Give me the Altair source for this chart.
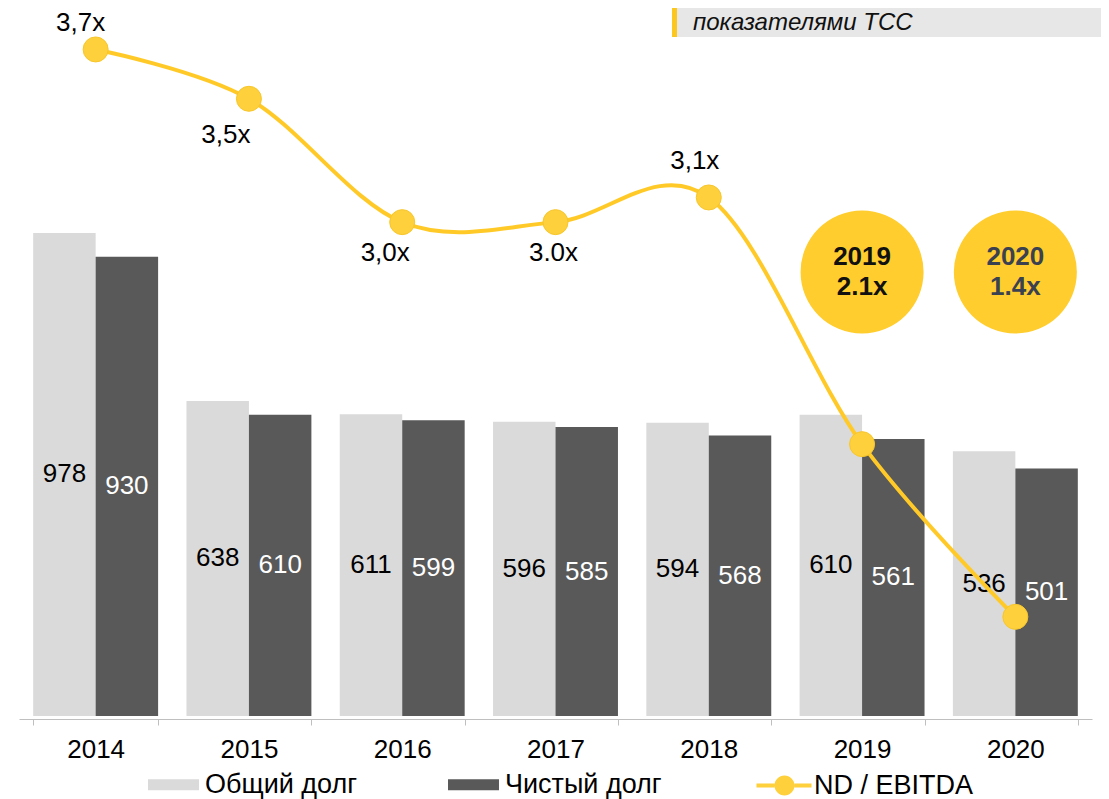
import altair as alt
import pandas as pd

# ---------------- data ----------------
years = ["2014", "2015", "2016", "2017", "2018", "2019", "2020"]
total_debt = [978, 638, 611, 596, 594, 610, 536]
net_debt = [930, 610, 599, 585, 568, 561, 501]
nd_ebitda = [3.7, 3.5, 3.0, 3.0, 3.1, 2.1, 1.4]
nd_labels = ["3,7x", "3,5x", "3,0x", "3.0x", "3,1x", "", ""]
callout_years = ["2019", "2020"]
callout_labels = ["2.1x", "1.4x"]
series_names = ["Общий долг", "Чистый долг"]
line_name = "ND / EBITDA"
title_text = "показателями ТСС"

# label offsets (style, not data)
label_offsets = {
    "2014": (-15, -26),
    "2015": (-23, 36),
    "2016": (-17, 31),
    "2017": (-2, 31),
    "2018": (-14, -36),
}

FONT = "Liberation Sans, Arial, sans-serif"
LIGHT = "#dadada"
DARK = "#595959"
YELLOW = "#ffca28"
POINT_YELLOW = "#fdd03c"
CIRCLE_YELLOW = "#ffcd2d"

W, H = 1073, 708

bar_df = pd.DataFrame({
    "year": years * 2,
    "series": [series_names[0]] * len(years) + [series_names[1]] * len(years),
    "value": total_debt + net_debt,
})
nd_df = pd.DataFrame({"year": years, "nd": nd_ebitda, "label": nd_labels})
call_df = pd.DataFrame({"year": callout_years, "label": callout_labels})
title_df = pd.DataFrame({"t": [title_text]})

xscale = alt.Scale(domain=years, paddingInner=0.185, paddingOuter=0.0925)
xaxis = alt.Axis(
    title=None, labelFont=FONT, labelFontSize=26, labelColor="#000", labelAngle=0,
    domainColor="#bfbfbf", tickColor="#bfbfbf", tickSize=6, tickBand="extent",
    offset=3, labelPadding=11, grid=False,
)
X = alt.X("year:N", scale=xscale, axis=xaxis, title=None)
XOFF = alt.XOffset("series:N", scale=alt.Scale(domain=series_names, paddingInner=0, paddingOuter=0))
bar_y_scale = alt.Scale(domain=[0, 1433.5], nice=False, zero=True)
nd_scale = alt.Scale(domain=[0.998, 3.868], nice=False, zero=False)

bar_legend = alt.Legend(
    title=None, orient="none", legendX=121, legendY=763, direction="horizontal",
    symbolType="M-1,-1H8.27V1H-1Z", symbolSize=121, symbolStrokeWidth=0,
    labelFont=FONT, labelFontSize=27, labelColor="#000", labelOffset=38,
    columnPadding=82, padding=0,
)
line_legend = alt.Legend(
    title=None, orient="none", legendX=734, legendY=764, direction="horizontal",
    symbolType="M-1,-0.2H0.8V0.2H-1Z M2.8,-0.2H4.5V0.2H2.8Z M0.8,0A1,1 0 1,0 2.8,0A1,1 0 1,0 0.8,0Z",
    symbolSize=400, symbolStrokeWidth=0,
    labelFont=FONT, labelFontSize=27, labelColor="#000", labelOffset=34, padding=0,
)

bars = alt.Chart(bar_df).mark_bar(strokeWidth=0).encode(
    x=X, xOffset=XOFF,
    y=alt.Y("value:Q", scale=bar_y_scale, axis=None),
    color=alt.Color("series:N", scale=alt.Scale(domain=series_names, range=[LIGHT, DARK]), legend=bar_legend),
)
bar_text = alt.Chart(bar_df).transform_calculate(half="datum.value / 2").mark_text(
    font=FONT, fontSize=26, baseline="middle", align="center"
).encode(
    x=X, xOffset=XOFF,
    y=alt.Y("half:Q", scale=bar_y_scale, axis=None),
    text=alt.Text("value:Q"),
    color=alt.condition(f"datum.series === '{series_names[0]}'", alt.value("#000000"), alt.value("#ffffff")),
)
bar_group = alt.layer(bars, bar_text)

line = alt.Chart(nd_df).mark_line(interpolate="cardinal", color=YELLOW, strokeWidth=4).encode(
    x=X, y=alt.Y("nd:Q", scale=nd_scale, axis=None)
)
points = alt.Chart(nd_df).transform_calculate(ind=f"'{line_name}'").mark_point(
    filled=True, size=625, opacity=1, stroke="#f8c62a", strokeWidth=1
).encode(
    x=X, y=alt.Y("nd:Q", scale=nd_scale, axis=None),
    fill=alt.Fill("ind:N", scale=alt.Scale(domain=[line_name], range=[POINT_YELLOW]), legend=line_legend),
)

label_layers = []
for yr, (dx, dy) in label_offsets.items():
    label_layers.append(
        alt.Chart(nd_df).transform_filter(f"datum.year === '{yr}'").mark_text(
            font=FONT, fontSize=26, color="#000", dx=dx, dy=dy, baseline="middle", align="center"
        ).encode(x=X, y=alt.Y("nd:Q", scale=nd_scale, axis=None), text="label:N")
    )

circles = alt.Chart(call_df).mark_circle(size=15129, color=CIRCLE_YELLOW, opacity=1).encode(
    x=X, y=alt.value(264)
)
circle_text = alt.Chart(call_df).transform_calculate(lines="[datum.year, datum.label]").mark_text(
    font=FONT, fontSize=26, fontWeight="bold", lineHeight=30, baseline="middle", align="center", dy=-15
).encode(
    x=X, y=alt.value(264), text="lines:N",
    color=alt.condition("datum.year === '2019'", alt.value("#111111"), alt.value("#3a4150")),
)

title_box = alt.Chart(title_df).mark_rect(color="#e7e7e7").encode(
    x=alt.value(653), x2=alt.value(1082), y=alt.value(0), y2=alt.value(29)
)
title_bar = alt.Chart(title_df).mark_rect(color="#fcc81f").encode(
    x=alt.value(653), x2=alt.value(658), y=alt.value(0), y2=alt.value(29)
)
title_txt = alt.Chart(title_df).mark_text(
    font=FONT, fontSize=24, fontStyle="italic", align="left", baseline="alphabetic", color="#111"
).encode(x=alt.value(674), y=alt.value(22), text="t:N")

line_group = alt.layer(line, points, *label_layers, circles, circle_text, title_box, title_bar, title_txt)

chart = alt.layer(bar_group, line_group).resolve_scale(y="independent").properties(
    width=W, height=H,
    autosize=alt.AutoSizeParams(type="none"),
    padding={"left": 11, "top": 0, "right": 9, "bottom": 83},
    background="white",
).configure_view(stroke=None)

chart.save("out.html", embed_options={"renderer": "svg", "actions": False})
